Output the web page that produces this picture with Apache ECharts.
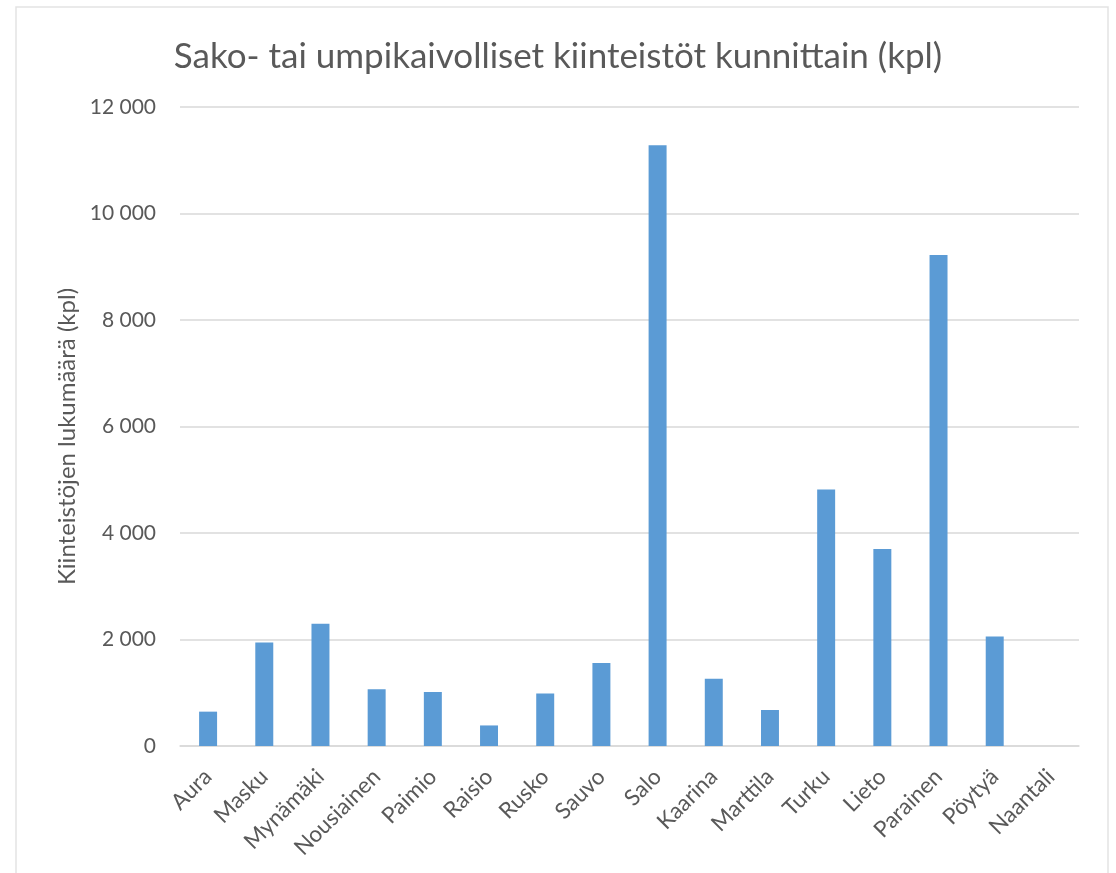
<!DOCTYPE html>
<html>
<head>
<meta charset="utf-8">
<script src="https://cdn.jsdelivr.net/npm/echarts@6/dist/echarts.min.js"></script>
<style>
html,body{margin:0;padding:0;background:#fff;}
#chart{width:1116px;height:873px;}
</style>
</head>
<body>
<div id="chart"></div>
<script>
const titleText = 'Sako- tai umpikaivolliset kiinteistöt kunnittain (kpl)';
const yAxisName = 'Kiinteistöjen lukumäärä (kpl)';
const categories = ['Aura','Masku','Mynämäki','Nousiainen','Paimio','Raisio','Rusko','Sauvo','Salo','Kaarina','Marttila','Turku','Lieto','Parainen','Pöytyä','Naantali'];
const values = [645, 1943, 2297, 1067, 1016, 386, 984, 1559, 11280, 1262, 676, 4819, 3700, 9220, 2057, 0];
const yMin = 0, yMax = 12000, yInterval = 2000;

const FONT = 'Lato';
const TXT = '#595959';
const GRID = '#d9d9d9';

const chart = echarts.init(document.getElementById('chart'), null, {renderer: 'canvas'});
chart.setOption({
  backgroundColor: '#fff',
  animation: false,
  graphic: [{
    type: 'rect',
    shape: {x: 16, y: 7, width: 1092, height: 900},
    style: {fill: 'none', stroke: '#e3e3e3', lineWidth: 1.5},
    silent: true
  }],
  title: {
    text: titleText,
    left: 'center',
    top: 34,
    textStyle: {fontFamily: FONT, fontSize: 35, fontWeight: 'normal', color: TXT}
  },
  grid: {left: 180, right: 37, top: 107, bottom: 127, containLabel: false},
  xAxis: {
    type: 'category',
    data: categories,
    axisLine: {lineStyle: {color: GRID, width: 1.5}},
    axisTick: {show: false},
    axisLabel: {
      rotate: 45, interval: 0, margin: 27,
      fontFamily: FONT, fontSize: 22.5, color: TXT
    }
  },
  yAxis: {
    type: 'value',
    min: yMin, max: yMax, interval: yInterval,
    name: yAxisName,
    nameLocation: 'middle',
    nameGap: 100,
    nameTextStyle: {fontFamily: FONT, fontSize: 24, color: TXT, padding: [0, 20, 0, 0]},
    axisLine: {show: false},
    axisTick: {show: false},
    splitLine: {lineStyle: {color: GRID, width: 1.5}},
    axisLabel: {
      margin: 24,
      fontFamily: FONT, fontSize: 21, color: TXT,
      formatter: v => String(v).replace(/\B(?=(\d{3})+(?!\d))/g, ' ')
    }
  },
  series: [{
    type: 'bar',
    data: values,
    barWidth: '32%',
    itemStyle: {color: '#5b9bd5'}
  }]
});
</script>
</body>
</html>
